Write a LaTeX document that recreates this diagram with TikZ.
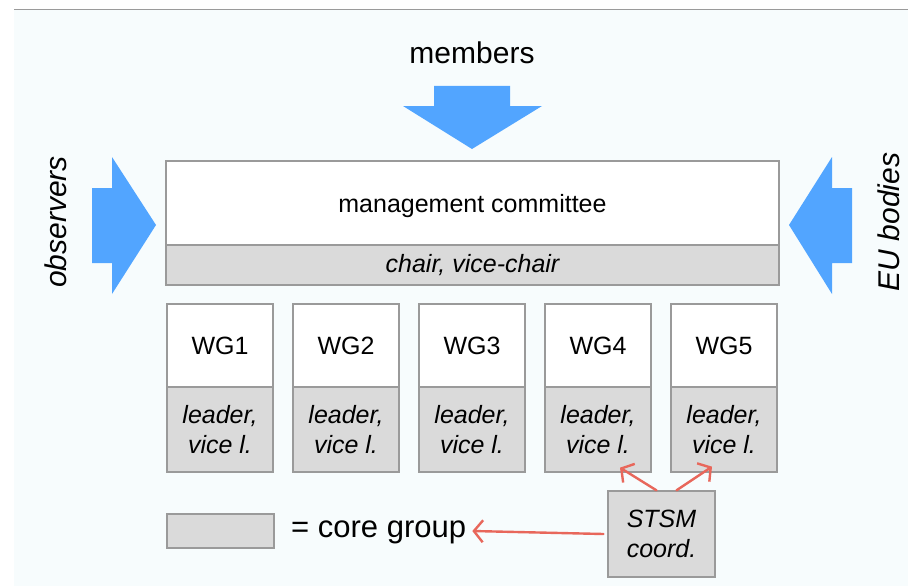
\documentclass[tikz,border=0pt]{standalone}
\usepackage{fontspec}
\setmainfont{Liberation Sans}
\usetikzlibrary{arrows.meta}
\definecolor{bgc}{HTML}{F7FCFD}
\definecolor{boxline}{HTML}{9A9A9A}
\definecolor{corefill}{HTML}{DADADA}
\definecolor{bluearr}{HTML}{52A5FF}
\definecolor{redarr}{HTML}{E8675B}
\tikzset{
  whitebox/.style={draw=boxline, line width=1.3pt, fill=white, inner sep=0pt, anchor=center},
  corebox/.style={draw=boxline, line width=1.3pt, fill=corefill, inner sep=0pt, anchor=center},
  bigblue/.style={fill=bluearr, draw=none},
  redlink/.style={draw=redarr, line width=2.4pt, line cap=round, -{Straight Barb[length=9pt,width=22pt]}},
  lbl/.style={inner sep=0pt, font=\fontsize{25}{30}\selectfont, align=center},
  biglbl/.style={inner sep=0pt, font=\fontsize{30}{36}\selectfont}
}
\begin{document}
\begin{tikzpicture}[x=1pt,y=-1pt]
\useasboundingbox (0,0) rectangle (908,586);
\fill[white] (0,0) rectangle (908,586);
\fill[bgc] (14,10) rectangle (908,586);
\draw[boxline, line width=1.8pt] (14,9.5) -- (908,9.5);

% blue arrows
\fill[bigblue] (434,86) -- (510,86) -- (510,106) -- (542,106) -- (472,149) -- (403,106) -- (434,106) -- cycle;
\fill[bigblue] (92,188) -- (112,188) -- (112,157) -- (156,225) -- (112,294) -- (112,263) -- (92,263) -- cycle;
\fill[bigblue] (852,188) -- (832,188) -- (832,157) -- (789,225) -- (832,294) -- (832,263) -- (852,263) -- cycle;

\node[biglbl] (members) at (472,53) {members};
\node[biglbl, rotate=90, font=\fontsize{30}{36}\selectfont\itshape] (observers) at (56,222) {observers};
\node[biglbl, rotate=90, font=\fontsize{30}{36}\selectfont\itshape] (eubodies) at (889,222) {EU bodies};

% management committee
\node[whitebox, minimum width=613pt, minimum height=84pt] (mc) at (472.5,203) {};
\node[lbl] (mctext) at (472.5,206) {management committee};
\node[corebox, minimum width=613pt, minimum height=40pt, font=\fontsize{25}{30}\selectfont\itshape] (chair) at (472.5,265) {chair, vice-chair};

% working groups
\foreach \i in {1,...,5}{
  \node[whitebox, minimum width=106pt, minimum height=83pt, font=\fontsize{25}{30}\selectfont] (wg\i) at ({220+126*(\i-1)},345.5) {WG\i};
  \node[corebox, minimum width=106pt, minimum height=85pt, align=center, font=\fontsize{25}{30}\selectfont\itshape] (lead\i) at ({220+126*(\i-1)},429.5) {leader,\\vice l.};
}

% legend
\node[corebox, minimum width=107pt, minimum height=34pt] (legend) at (220.5,531) {};
\node[lbl, anchor=west, font=\fontsize{31}{36}\selectfont] (coretext) at (291,532) {= core group};

% STSM
\node[corebox, minimum width=107pt, minimum height=86pt, align=center, font=\fontsize{25}{30}\selectfont\itshape] (stsm) at (661.5,534) {STSM\\coord.};

\coordinate (t4) at ([xshift=22pt,yshift=5pt]lead4.south);
\coordinate (t5) at ([xshift=-12pt,yshift=6pt]lead5.south);
\draw[redlink] ([xshift=-5pt]stsm.north) -- (t4);
\draw[redlink] ([xshift=15pt]stsm.north) -- (t5);
\draw[redlink] ([xshift=-4pt]stsm.west) -- ([xshift=6pt,yshift=1pt]coretext.east);
\end{tikzpicture}
\end{document}
